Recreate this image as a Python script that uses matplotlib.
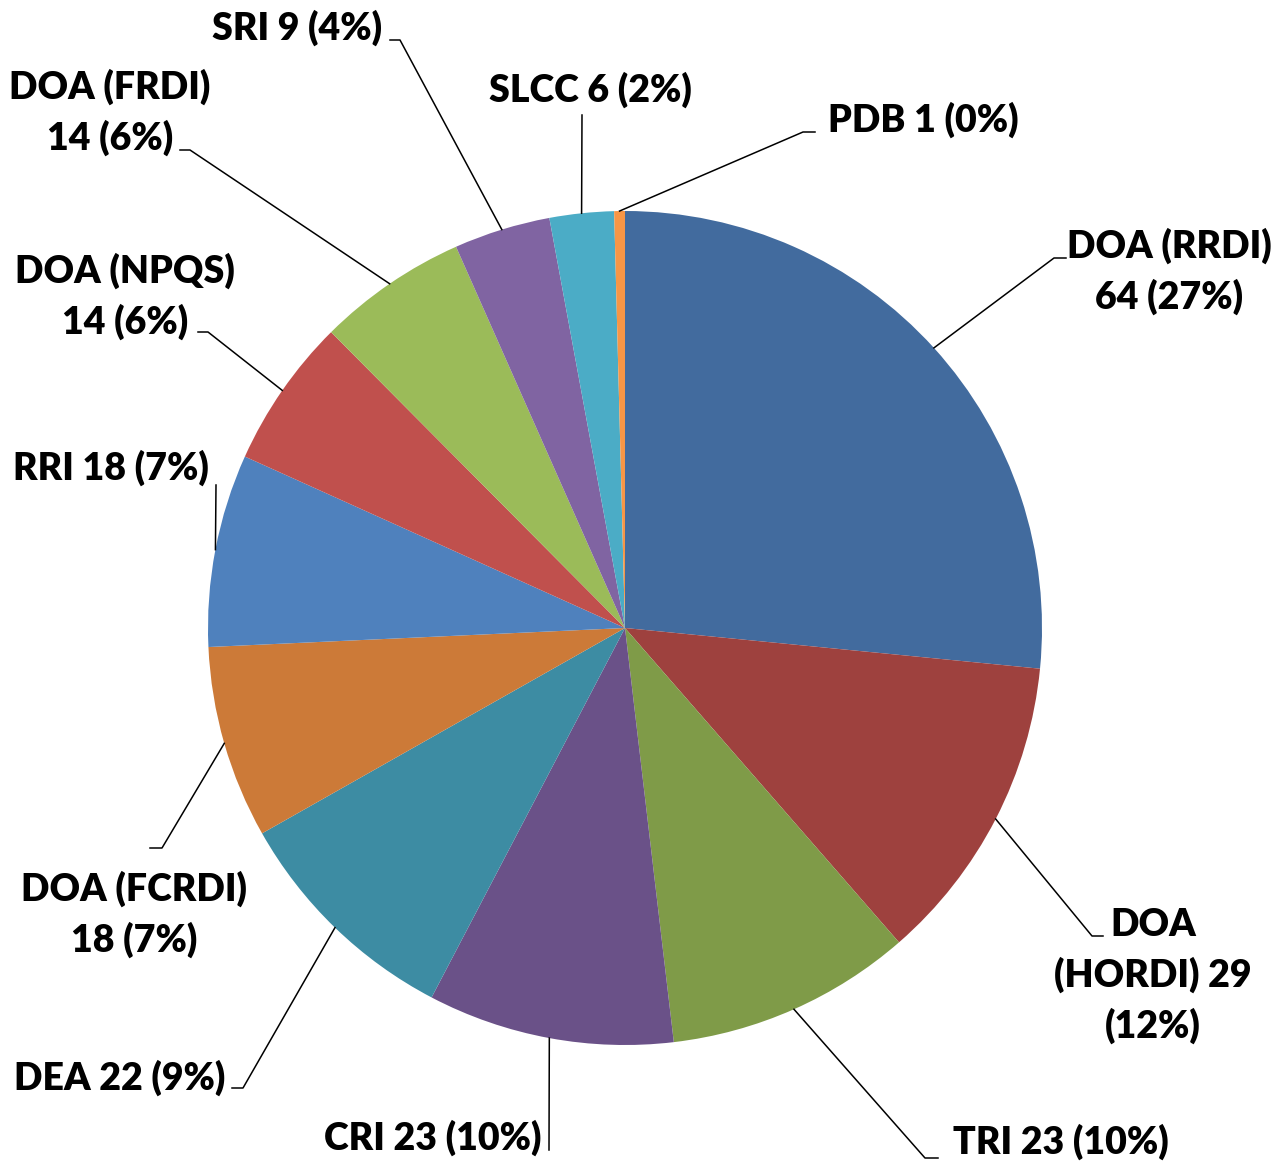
import numpy as np
import matplotlib
matplotlib.use("Agg")
import matplotlib.pyplot as plt

labels = ["DOA (RRDI)\n64 (27%)", "DOA\n(HORDI) 29\n(12%)", "TRI 23 (10%)", "CRI 23 (10%)",
          "DEA 22 (9%)", "DOA (FCRDI)\n18 (7%)", "RRI 18 (7%)", "DOA (NPQS)\n14 (6%)",
          "DOA (FRDI)\n14 (6%)", "SRI 9 (4%)", "SLCC 6 (2%)", "PDB 1 (0%)"]
values = [64, 29, 23, 23, 22, 18, 18, 14, 14, 9, 6, 1]
colors = ["#426B9E", "#9E413E", "#7F9B48", "#6A5188", "#3D8CA3", "#CC7A38",
          "#4F81BD", "#C0504D", "#9BBB59", "#8064A2", "#4BACC6", "#F79646"]

H = 1164
cx, cy, r = 625, 628, 417

# label centre, elbow and end of leader (pixel coords)
label_pos = [(1169, 271), (1153, 976), (1061, 1142), (433, 1138), (120, 1078), (134, 914),
             (111, 468), (125, 296), (110, 112), (297, 28), (590, 90), (923, 120)]
leaders = [[(1054, 258), (1066, 258)], [(1092, 936), (1103, 936)], [(925, 1158), (938, 1158)],
           [(549, 1150)], [(243, 1088), (232, 1088)], [(162, 848), (150, 848)],
           [(216, 485)], [(208, 332), (198, 332)], [(190, 150), (180, 150)],
           [(400, 40), (390, 40)], [(582, 115)], [(803, 132), (815, 132)]]

fig = plt.figure(figsize=(12.72, 11.64), dpi=100)
ax = fig.add_axes([0, 0, 1, 1])

wedges, _ = ax.pie(values, colors=colors, startangle=90, counterclock=False,
                   center=(cx, H - cy), radius=r, wedgeprops=dict(linewidth=0))
ax.set_xlim(0, 1272)
ax.set_ylim(0, H)
ax.set_aspect("equal")
ax.axis("off")

for w, lab, (tx, ty), pts in zip(wedges, labels, label_pos, leaders):
    mid = np.deg2rad((w.theta1 + w.theta2) / 2)
    xs = [cx + r * np.cos(mid)] + [p[0] for p in pts]
    ys = [H - cy + r * np.sin(mid)] + [H - p[1] for p in pts]
    ax.plot(xs, ys, color="black", lw=1.1)
    ax.text(tx, H - ty, lab, ha="center", va="center", fontsize=27,
            fontweight=800, family="Lato", linespacing=1.48)

fig.savefig("out.png", dpi=100)
